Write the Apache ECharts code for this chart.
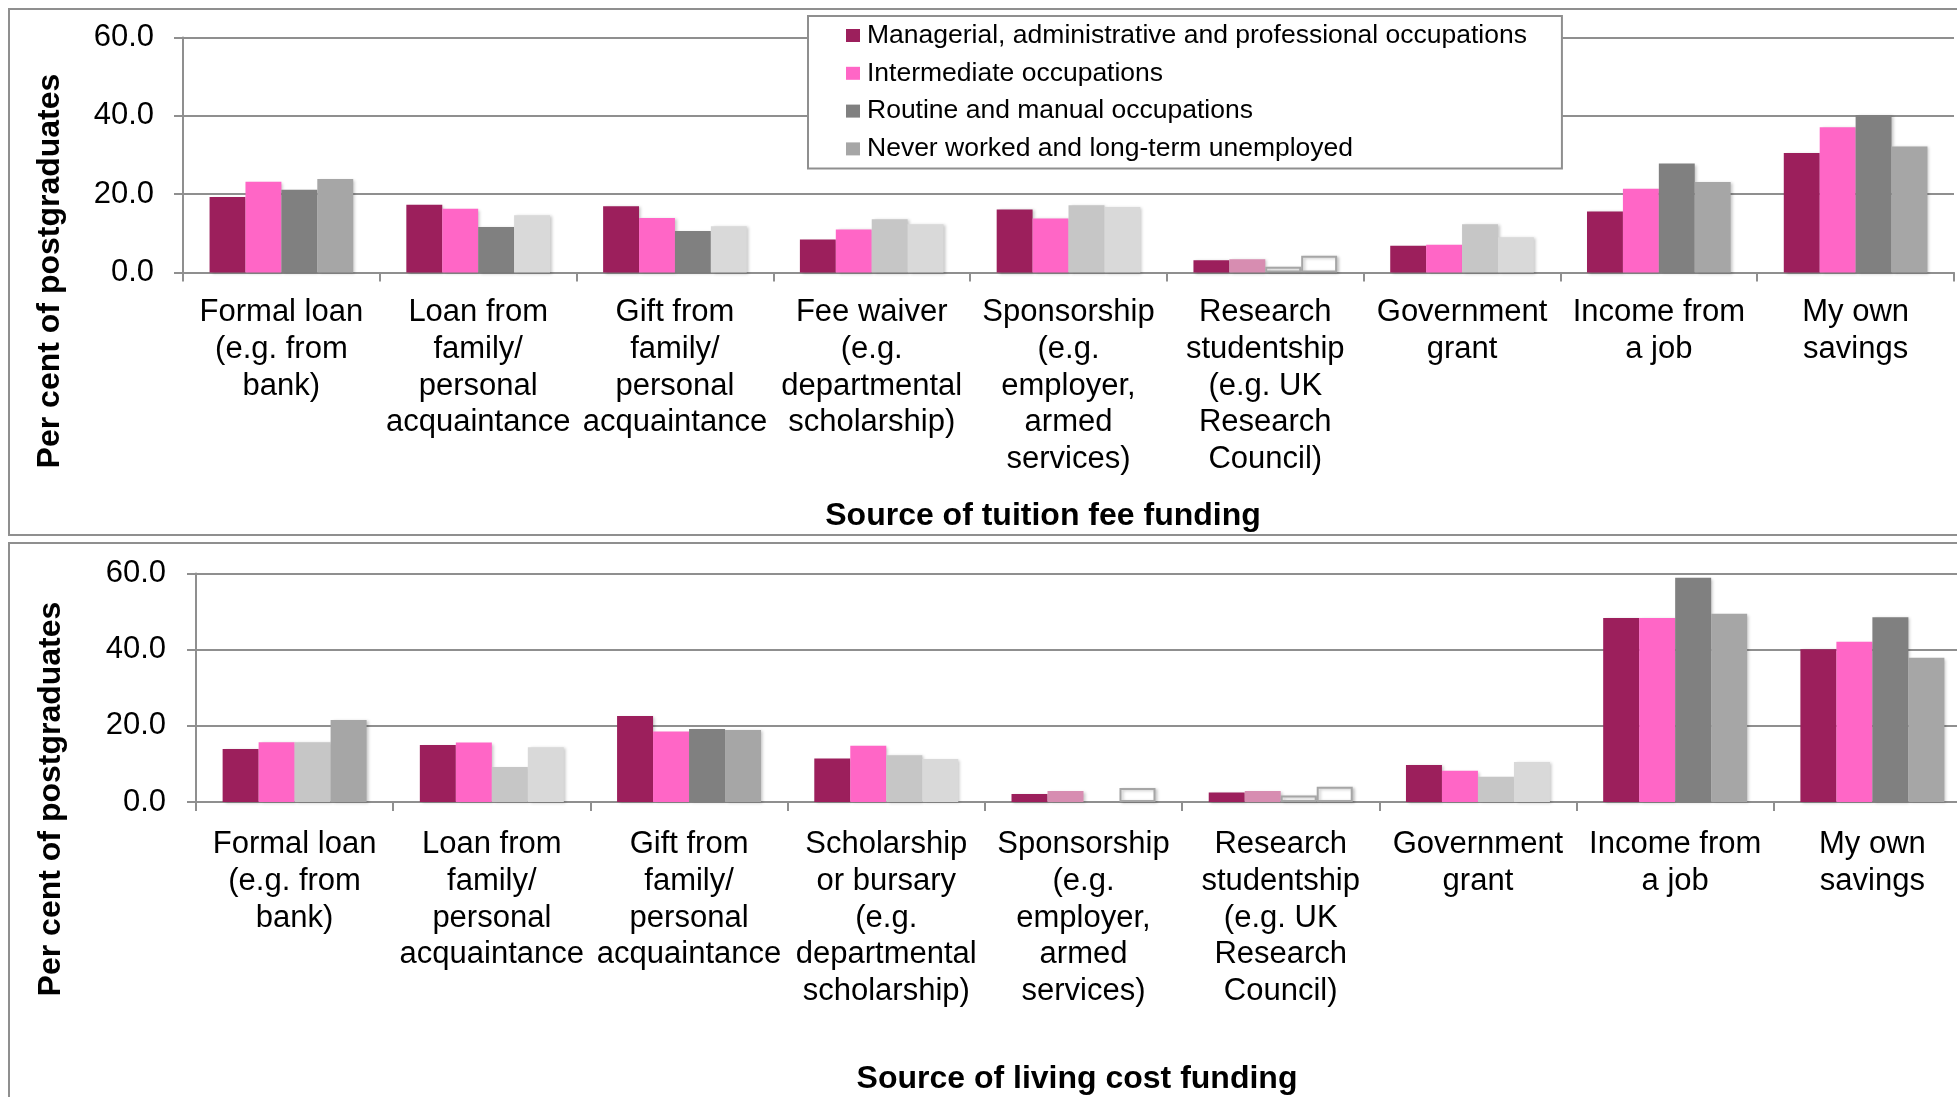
<!DOCTYPE html>
<html>
<head>
<meta charset="utf-8">
<script src="https://cdn.jsdelivr.net/npm/echarts@6/dist/echarts.min.js"></script>
<style>
html,body{margin:0;padding:0;background:#fff;overflow:hidden;}
#chart{width:1985px;height:1097px;}
</style>
</head>
<body>
<div id="chart"></div>
<script>
// ---------- data ----------
const seriesNames = [
  'Managerial, administrative and professional occupations',
  'Intermediate occupations',
  'Routine and manual occupations',
  'Never worked and long-term unemployed'
];
const tuitionCategories = [
  'Formal loan\n(e.g. from\nbank)',
  'Loan from\nfamily/\npersonal\nacquaintance',
  'Gift from\nfamily/\npersonal\nacquaintance',
  'Fee waiver\n(e.g.\ndepartmental\nscholarship)',
  'Sponsorship\n(e.g.\nemployer,\narmed\nservices)',
  'Research\nstudentship\n(e.g. UK\nResearch\nCouncil)',
  'Government\ngrant',
  'Income from\na job',
  'My own\nsavings'
];
const livingCategories = [
  'Formal loan\n(e.g. from\nbank)',
  'Loan from\nfamily/\npersonal\nacquaintance',
  'Gift from\nfamily/\npersonal\nacquaintance',
  'Scholarship\nor bursary\n(e.g.\ndepartmental\nscholarship)',
  'Sponsorship\n(e.g.\nemployer,\narmed\nservices)',
  'Research\nstudentship\n(e.g. UK\nResearch\nCouncil)',
  'Government\ngrant',
  'Income from\na job',
  'My own\nsavings'
];
const yTicks = [0, 20, 40, 60];

const tuitionManagerial   = [19.3, 17.3, 16.9, 8.4, 16.1, 3.1, 6.8, 15.6, 30.5];
const tuitionIntermediate = [23.2, 16.3, 13.9, 11.0, 13.8, 3.4, 7.1, 21.4, 37.1];
const tuitionRoutine      = [21.1, 11.6, 10.6, 13.6, 17.2, 1.5, 12.3, 27.8, 40.2];
const tuitionNever        = [23.9, 14.6, 11.8, 12.3, 16.7, 4.3, 9.0, 23.1, 32.2];

const livingManagerial   = [13.9, 15.0, 22.6, 11.4, 2.1, 2.5, 9.7, 48.3, 40.1];
const livingIntermediate = [15.7, 15.6, 18.5, 14.8, 2.9, 2.9, 8.2, 48.3, 42.1];
const livingRoutine      = [15.7, 9.2, 19.2, 12.3, null, 1.7, 6.6, 58.9, 48.5];
const livingNever        = [21.5, 14.4, 18.9, 11.3, 3.7, 4.0, 10.5, 49.4, 37.9];

// ---------- styles ----------
const C = {
  M: '#9c1f5c', P: '#ff66c6', PP: '#d78db1',
  G1: '#808080', G2: '#a6a6a6', G3: '#c6c6c6', G4: '#d9d9d9', W: 'white'
};
const legendColors = [C.M, C.P, C.G1, C.G2];
// per-bar colour keys [series][category]
const tuitionStyle = [
  ['M','M','M','M','M','M','M','M','M'],
  ['P','P','P','P','P','PP','P','P','P'],
  ['G1','G1','G1','G3','G3','W','G3','G1','G1'],
  ['G2','G4','G4','G4','G4','W','G4','G2','G2']
];
const livingStyle = [
  ['M','M','M','M','M','M','M','M','M'],
  ['P','P','P','P','PP','PP','P','P','P'],
  ['G3','G3','G1','G3','W','W','G3','G1','G1'],
  ['G2','G4','G2','G4','W','W','G4','G2','G2']
];

const FONT = 'Liberation Sans, Arial, Helvetica, sans-serif';
const AXIS_COL = '#8f8f8f';

function makeSeries(valuesList, styleList, gridIdx) {
  return valuesList.map((vals, si) => ({
    name: seriesNames[si],
    type: 'bar',
    xAxisIndex: gridIdx,
    yAxisIndex: gridIdx,
    barGap: '0%',
    barCategoryGap: '27%',
    itemStyle: { color: legendColors[si] },
    data: vals.map((v, ci) => {
      const k = styleList[si][ci];
      const st = k === 'W'
        ? { color: '#ffffff', borderColor: '#a6a6a6', borderWidth: 2 }
        : { color: C[k] };
      st.shadowColor = 'rgba(0,0,0,0.22)';
      st.shadowBlur = 3;
      st.shadowOffsetX = 2;
      st.shadowOffsetY = 1;
      return { value: v, itemStyle: st };
    }),
    emphasis: { disabled: true },
    animation: false
  }));
}

function xAxisCfg(cats, gi, margin) {
  return {
    type: 'category', gridIndex: gi, data: cats,
    axisLine: { show: true, lineStyle: { color: AXIS_COL, width: 2 } },
    axisTick: { show: true, length: 9, lineStyle: { color: AXIS_COL, width: 2 } },
    axisLabel: {
      interval: 0, margin: margin, color: '#000',
      fontFamily: FONT, fontSize: 31, lineHeight: 36.8
    }
  };
}
function yAxisCfg(gi, margin) {
  return {
    type: 'value', gridIndex: gi, min: yTicks[0], max: yTicks[yTicks.length - 1],
    interval: yTicks[1] - yTicks[0],
    axisLine: { show: true, lineStyle: { color: AXIS_COL, width: 2 } },
    axisTick: { show: true, length: 9, lineStyle: { color: AXIS_COL, width: 2 } },
    splitLine: { show: true, lineStyle: { color: AXIS_COL, width: 2 } },
    axisLabel: {
      margin: margin, color: '#000', fontFamily: FONT, fontSize: 31,
      formatter: v => v.toFixed(1)
    }
  };
}

const chart = echarts.init(document.getElementById('chart'), null, { renderer: 'canvas' });
const option = {
  backgroundColor: '#ffffff',
  animation: false,
  grid: [
    { left: 183, top: 37.5, width: 1771, height: 235 },
    { left: 196, top: 573.5, width: 1775, height: 228.5 }
  ],
  xAxis: [xAxisCfg(tuitionCategories, 0, 21.5), xAxisCfg(livingCategories, 1, 24)],
  yAxis: [yAxisCfg(0, 29), yAxisCfg(1, 30)],
  legend: {
    data: seriesNames,
    orient: 'vertical',
    left: 808, top: 16,
    padding: [6, 35, 6, 38],
    itemGap: 10.8,
    itemWidth: 14, itemHeight: 13,
    icon: 'rect',
    backgroundColor: '#ffffff',
    borderColor: AXIS_COL, borderWidth: 2,
    textStyle: { fontFamily: FONT, fontSize: 26.5, lineHeight: 26, color: '#000', padding: [0, 0, 0, 2] },
    selectedMode: false
  },
  graphic: [
    { type: 'rect', z: -10, shape: { x: 9, y: 9, width: 1990, height: 526 },
      style: { fill: 'none', stroke: AXIS_COL, lineWidth: 2 } },
    { type: 'rect', z: -10, shape: { x: 9, y: 543, width: 1990, height: 600 },
      style: { fill: 'none', stroke: AXIS_COL, lineWidth: 2 } },
    { type: 'text', x: 1043, y: 516.5,
      style: { text: 'Source of tuition fee funding', font: 'bold 32px ' + FONT, fill: '#000', textAlign: 'center', textVerticalAlign: 'middle' } },
    { type: 'text', x: 1077, y: 1079.5,
      style: { text: 'Source of living cost funding', font: 'bold 32px ' + FONT, fill: '#000', textAlign: 'center', textVerticalAlign: 'middle' } },
    { type: 'text', x: 50, y: 271, rotation: Math.PI / 2,
      style: { text: 'Per cent of postgraduates', font: 'bold 32px ' + FONT, fill: '#000', textAlign: 'center', textVerticalAlign: 'middle' } },
    { type: 'text', x: 51, y: 799, rotation: Math.PI / 2,
      style: { text: 'Per cent of postgraduates', font: 'bold 32px ' + FONT, fill: '#000', textAlign: 'center', textVerticalAlign: 'middle' } }
  ],
  series: [].concat(
    makeSeries([tuitionManagerial, tuitionIntermediate, tuitionRoutine, tuitionNever], tuitionStyle, 0),
    makeSeries([livingManagerial, livingIntermediate, livingRoutine, livingNever], livingStyle, 1)
  )
};
chart.setOption(option);
</script>
</body>
</html>
